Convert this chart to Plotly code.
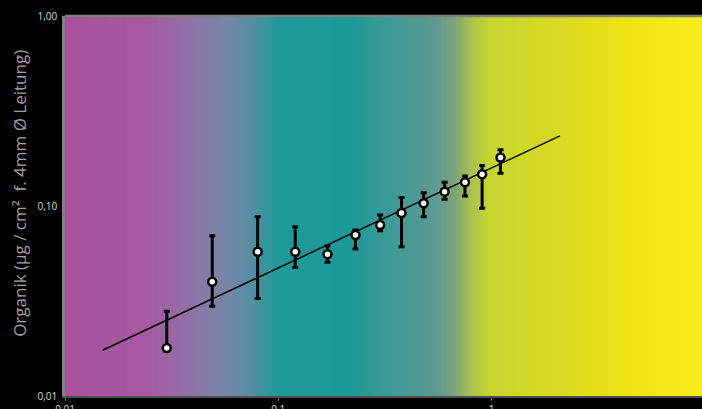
import plotly.graph_objects as go

# ---- data ----
conc = [0.030, 0.049, 0.080, 0.120, 0.170, 0.230, 0.300, 0.378, 0.480, 0.602, 0.750, 0.902, 1.10]
organik = [0.0179, 0.0399, 0.0574, 0.0574, 0.0558, 0.0703, 0.0794, 0.0918, 0.1033, 0.119, 0.1334, 0.147, 0.180]
err_hi = [0.0279, 0.0697, 0.0878, 0.0778, 0.0617, 0.0747, 0.0897, 0.111, 0.1175, 0.1334, 0.144, 0.1632, 0.1975]
err_lo = [0.0172, 0.0297, 0.0326, 0.0475, 0.0506, 0.0593, 0.0741, 0.061, 0.0878, 0.1085, 0.1129, 0.0972, 0.1488]
fit_x = [0.015, 2.09]
fit_y = [0.0174, 0.234]

x_ticks = [0.01, 0.1, 1, 10]
x_ticklabels = ["0,01", "0,1", "1", "10"]
y_ticks = [0.01, 0.1, 1]
y_ticklabels = ["0,01", "0,10", "1,00"]

y_title = "Organik (µg / cm²  f. 4mm Ø Leitung)"

# ---- background gradient (style) ----
grad_stops = [
    (0.000, "#A9519F"), (0.133, "#A65AA2"), (0.212, "#8A78A8"), (0.259, "#7388A6"),
    (0.298, "#4E90A0"), (0.336, "#1E9A9A"), (0.447, "#1C9A98"), (0.526, "#459A96"),
    (0.581, "#5B9A90"), (0.612, "#7FA47A"), (0.636, "#A8C050"), (0.667, "#C6D62E"),
    (0.777, "#D9DA22"), (0.887, "#EFE412"), (1.000, "#F8EE1C"),
]


def hex2rgb(h):
    h = h.lstrip("#")
    return tuple(int(h[i:i + 2], 16) for i in (0, 2, 4))


def color_at(f):
    for (f0, c0), (f1, c1) in zip(grad_stops[:-1], grad_stops[1:]):
        if f0 <= f <= f1:
            t = 0 if f1 == f0 else (f - f0) / (f1 - f0)
            a, b = hex2rgb(c0), hex2rgb(c1)
            return "rgb(%d,%d,%d)" % tuple(round(a[i] + (b[i] - a[i]) * t) for i in range(3))
    return grad_stops[-1][1]


n_strips = 220
shapes = []
for i in range(n_strips):
    f0 = i / n_strips
    f1 = (i + 1) / n_strips
    shapes.append(dict(type="rect", xref="x domain", yref="y domain", x0=f0, x1=min(1, f1 + 0.002),
                       y0=0, y1=1, fillcolor=color_at((f0 + f1) / 2), line_width=0, layer="below"))
# top frame line
shapes.append(dict(type="line", xref="x domain", yref="y domain", x0=0, x1=1, y0=1, y1=1,
                   line=dict(color="#808080", width=2.5), layer="above"))

fig = go.Figure()
fig.add_trace(go.Scatter(x=fit_x, y=fit_y, mode="lines",
                         line=dict(color="black", width=1.5), hoverinfo="skip", showlegend=False))
fig.add_trace(go.Scatter(
    x=conc, y=organik, mode="markers",
    marker=dict(symbol="circle", size=8, color="white", line=dict(color="black", width=2.5)),
    error_y=dict(type="data", symmetric=False,
                 array=[h - v for h, v in zip(err_hi, organik)],
                 arrayminus=[v - l for v, l in zip(organik, err_lo)],
                 color="black", thickness=3, width=3),
    showlegend=False,
))

fig.update_layout(
    width=702, height=409, autosize=False,
    margin=dict(l=65, r=0, t=16, b=13, autoexpand=False),
    paper_bgcolor="black", plot_bgcolor="#A9519F",
    shapes=shapes,
    font=dict(family="Open Sans", color="#d9d9d9", size=10),
    xaxis=dict(type="log", range=[-2, 0.986], showgrid=False, zeroline=False, automargin=False,
               tickvals=x_ticks, ticktext=x_ticklabels, ticks="outside", ticklen=3,
               tickcolor="#606060", showline=True, linecolor="#505050", linewidth=2,
               tickfont=dict(size=10, color="#d9d9d9")),
    yaxis=dict(type="log", range=[-2, 0], showgrid=False, zeroline=False, automargin=False,
               tickvals=y_ticks, ticktext=y_ticklabels, ticks="outside", ticklen=3,
               tickcolor="black", showline=True, linecolor="#808080", linewidth=2.5,
               tickfont=dict(size=10, color="#d9d9d9")),
    annotations=[dict(text=y_title, xref="paper", yref="paper", x=-0.0706, y=0.532,
                      xanchor="center", yanchor="middle", textangle=-90, showarrow=False,
                      font=dict(family="Open Sans", size=17, color="#a0a0a0"))],
)

fig.write_html(
    "out.html",
    config={"responsive": False, "displayModeBar": False},
    default_width="702px", default_height="409px",
    post_script="document.body.style.margin='0';document.body.style.background='black';",
)
